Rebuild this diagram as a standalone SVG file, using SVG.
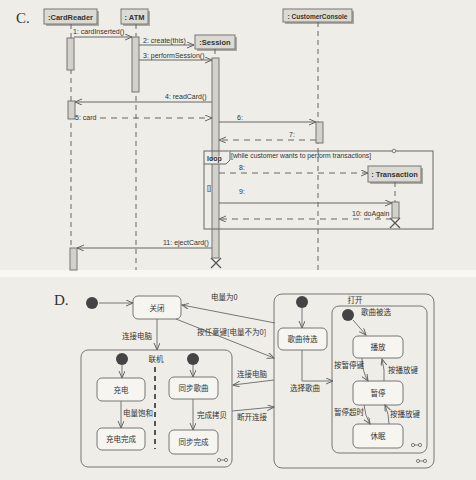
<svg xmlns="http://www.w3.org/2000/svg" width="476" height="480" viewBox="0 0 476 480">
<defs>
<marker id="arr" markerWidth="9" markerHeight="8" refX="7" refY="3" orient="auto" markerUnits="userSpaceOnUse"><path d="M0,0 L7,3 L0,6" fill="none" stroke="#666" stroke-width="1"/></marker>
</defs>
<style>
.ot{font-family:"Liberation Sans",Arial,sans-serif;font-size:7.5px;font-weight:bold;fill:#333;text-anchor:middle}
.obj{fill:#dcdbd3;stroke:#777;stroke-width:1}
.sh{fill:#aaa9a2}
.life{stroke:#666;stroke-width:1;stroke-dasharray:5,4;fill:none}
.act{fill:#d2d1ca;stroke:#777;stroke-width:1}
.msg{stroke:#666;stroke-width:1;fill:none;marker-end:url(#arr)}
.ret{stroke:#666;stroke-width:1;fill:none;stroke-dasharray:6,5;marker-end:url(#arr)}
.mt{font-family:"Liberation Sans",Arial,sans-serif;font-size:7px;fill:#333}
.st{fill:#f6f5f0;stroke:#777;stroke-width:1}
.comp{fill:none;stroke:#777;stroke-width:1}
.ct{font-family:"Noto Sans CJK SC",sans-serif;font-size:7.5px;fill:#333}
.cm{font-family:"Noto Sans CJK SC",sans-serif;font-size:7.5px;fill:#333;text-anchor:middle}
.init{fill:#444}
.tr{stroke:#777;stroke-width:1;fill:none;marker-end:url(#arr)}
.lbl{font-family:"Liberation Serif","Times New Roman",serif;font-size:15px;fill:#333}
.x{stroke:#555;stroke-width:1.2;fill:none}
.icon{fill:none;stroke:#666;stroke-width:0.8}
</style>
<rect x="0" y="0" width="476" height="480" fill="#eeede7"/>
<rect x="0" y="270" width="476" height="7" fill="#f7f7f3"/>

<!-- Part C: sequence diagram -->
<text class="lbl" x="16" y="23">C.</text>

<g id="cardreader">
<rect class="sh" x="46" y="11" width="53" height="15"/>
<rect class="obj" x="44" y="9" width="53" height="15"/>
<text class="ot" x="70.5" y="19.5">:CardReader</text>
<line class="life" x1="71" y1="24" x2="71" y2="270"/>
<rect class="act" x="67" y="38" width="7" height="32"/>
<rect class="act" x="68" y="101" width="7" height="18"/>
<rect class="act" x="70" y="248" width="7" height="22"/>
</g>

<g id="atm">
<rect class="sh" x="123" y="11" width="27" height="15"/>
<rect class="obj" x="121" y="9" width="27" height="15"/>
<text class="ot" x="134.5" y="19.5">: ATM</text>
<line class="life" x1="136" y1="24" x2="136" y2="270"/>
<rect class="act" x="132" y="37" width="7" height="55"/>
</g>

<g id="session">
<rect class="sh" x="197" y="37" width="40" height="14"/>
<rect class="obj" x="195" y="35" width="40" height="14"/>
<text class="ot" x="215" y="45">:Session</text>
<line class="life" x1="215" y1="49" x2="215" y2="58"/>
<rect class="act" x="212" y="58" width="7" height="200"/>
<path class="x" d="M211,258 L221,268 M221,258 L211,268"/>
</g>

<g id="customerconsole">
<rect class="sh" x="285" y="11" width="69" height="13"/>
<rect class="obj" x="283" y="9" width="69" height="13"/>
<text class="ot" x="317.5" y="18.5" style="font-size:6.5px">: CustomerConsole</text>
<line class="life" x1="318" y1="22" x2="318" y2="270"/>
<rect class="act" x="316" y="122" width="7" height="21"/>
</g>

<g id="transaction">
<rect class="sh" x="370" y="168" width="53" height="16"/>
<rect class="obj" x="368" y="166" width="53" height="16"/>
<text class="ot" x="394.5" y="177">: Transaction</text>
<line class="life" x1="395" y1="182" x2="395" y2="202"/>
<rect class="act" x="392" y="202" width="7" height="16"/>
<path class="x" d="M390,218 L400,228 M400,218 L390,228"/>
</g>

<g id="loop">
<rect x="204" y="151" width="229" height="78" fill="none" stroke="#666" stroke-width="1"/>
<path d="M204,164 L226,164 L230,160 L230,151" fill="#eeede7" stroke="#666" stroke-width="1"/>
<text class="mt" x="207" y="161" style="font-weight:bold">loop</text>
<text class="mt" x="231" y="158" style="font-size:6.8px">[while customer wants to perform transactions]</text>
<circle cx="394" cy="151" r="1.8" fill="#eeede7" stroke="#666" stroke-width="0.8"/>
<text class="mt" x="207" y="190">[]</text>
</g>

<g id="messages">
<line class="msg" x1="74" y1="37" x2="132" y2="37"/>
<text class="mt" x="73" y="34">1: cardInserted()</text>
<line class="msg" x1="139" y1="45" x2="194" y2="45"/>
<text class="mt" x="143" y="43">2: create(this)</text>
<line class="msg" x1="139" y1="60" x2="212" y2="60"/>
<text class="mt" x="143" y="58">3: performSession()</text>
<line class="msg" x1="212" y1="102" x2="75" y2="102"/>
<text class="mt" x="165" y="99">4: readCard()</text>
<line class="ret" x1="100" y1="118" x2="212" y2="118"/>
<text class="mt" x="75" y="120">5: card</text>
<line class="msg" x1="219" y1="122" x2="316" y2="122"/>
<text class="mt" x="237" y="120">6:</text>
<line class="ret" x1="316" y1="140" x2="219" y2="140"/>
<text class="mt" x="289" y="137">7:</text>
<line class="ret" x1="219" y1="173" x2="368" y2="173"/>
<text class="mt" x="239" y="170">8:</text>
<line class="msg" x1="219" y1="203" x2="392" y2="203"/>
<text class="mt" x="239" y="194">9:</text>
<line class="ret" x1="392" y1="219" x2="219" y2="219"/>
<text class="mt" x="352" y="216">10: doAgain</text>
<line class="msg" x1="212" y1="248" x2="77" y2="248"/>
<text class="mt" x="163" y="245">11: ejectCard()</text>
</g>

<!-- Part D: state diagram -->
<text class="lbl" x="54" y="305">D.</text>

<g id="init-top"><circle class="init" cx="92" cy="303" r="6"/></g>
<g id="guanbi">
<rect class="st" x="133" y="296" width="48" height="23" rx="5"/>
<text class="cm" x="157" y="310.5">关闭</text>
</g>

<g id="lianji">
<rect class="comp" x="81" y="350" width="151" height="117" rx="7"/>
<text class="cm" x="156" y="362">联机</text>
<line x1="155" y1="367" x2="155" y2="449" stroke="#555" stroke-width="2" stroke-dasharray="5,4"/>
<circle class="init" cx="122" cy="359" r="6"/>
<circle class="init" cx="193" cy="359" r="6"/>
<path class="icon" d="M220,460 L225,460"/>
<circle class="icon" cx="219" cy="460" r="1.6"/>
<circle class="icon" cx="226" cy="460" r="1.6"/>
</g>
<g id="chongdian">
<rect class="st" x="97" y="378" width="48" height="23" rx="5"/>
<text class="cm" x="121" y="392.5">充电</text>
</g>
<g id="chongdianwancheng">
<rect class="st" x="97" y="428" width="48" height="22" rx="5"/>
<text class="cm" x="121" y="442">充电完成</text>
</g>
<g id="tongbugequ">
<rect class="st" x="169" y="377" width="49" height="22" rx="5"/>
<text class="cm" x="193.5" y="391">同步歌曲</text>
</g>
<g id="tongbuwancheng">
<rect class="st" x="169" y="430" width="49" height="24" rx="5"/>
<text class="cm" x="193.5" y="445">同步完成</text>
</g>

<g id="dakai">
<rect class="comp" x="274" y="294" width="160" height="174" rx="8"/>
<text class="cm" x="355" y="303">打开</text>
<circle class="init" cx="302" cy="302" r="6"/>
<path class="icon" d="M419,461 L424,461"/>
<circle class="icon" cx="418" cy="461" r="1.6"/>
<circle class="icon" cx="425" cy="461" r="1.6"/>
</g>
<g id="gequdaixuan">
<rect class="st" x="278" y="328" width="49" height="22" rx="5"/>
<text class="cm" x="302.5" y="342">歌曲待选</text>
</g>
<g id="gequbeixuan">
<rect class="comp" x="332" y="306" width="95" height="147" rx="7"/>
<text class="cm" x="376" y="315">歌曲被选</text>
<circle class="init" cx="348" cy="315" r="6"/>
<path class="icon" d="M414,445 L419,445"/>
<circle class="icon" cx="413" cy="445" r="1.6"/>
<circle class="icon" cx="420" cy="445" r="1.6"/>
</g>
<g id="bofang">
<rect class="st" x="353" y="336" width="50" height="22" rx="5"/>
<text class="cm" x="378" y="350">播放</text>
</g>
<g id="zanting">
<rect class="st" x="353" y="381" width="50" height="24" rx="5"/>
<text class="cm" x="378" y="396">暂停</text>
</g>
<g id="xiumian">
<rect class="st" x="353" y="424" width="50" height="24" rx="5"/>
<text class="cm" x="378" y="439">休眠</text>
</g>

<g id="transitions">
<line class="tr" x1="99" y1="303" x2="133" y2="303"/>
<line class="tr" x1="275" y1="323" x2="182" y2="305"/>
<text class="ct" x="211" y="300">电量为0</text>
<line class="tr" x1="176" y1="319" x2="274" y2="358"/>
<text class="ct" x="197" y="335">按任意键[电量不为0]</text>
<line class="tr" x1="157" y1="319" x2="157" y2="350"/>
<text class="ct" x="122" y="339">连接电脑</text>
<line class="tr" x1="122" y1="365" x2="122" y2="378"/>
<line class="tr" x1="121" y1="401" x2="121" y2="428"/>
<text class="ct" x="123" y="416">电量饱和</text>
<line class="tr" x1="193" y1="365" x2="193" y2="377"/>
<line class="tr" x1="193" y1="399" x2="193" y2="430"/>
<text class="ct" x="197" y="418">完成拷贝</text>
<line class="tr" x1="274" y1="380" x2="233" y2="385"/>
<text class="ct" x="237" y="377">连接电脑</text>
<line class="tr" x1="232" y1="411" x2="274" y2="407"/>
<text class="ct" x="237" y="420">断开连接</text>
<line class="tr" x1="302" y1="308" x2="302" y2="328"/>
<path class="tr" d="M302,350 L302,381 L333,381"/>
<text class="ct" x="290" y="391">选择歌曲</text>
<line class="tr" x1="353" y1="320" x2="366" y2="335"/>
<path class="tr" d="M362,358 Q362,371 368,381"/>
<text class="ct" x="334" y="368">按暂停键</text>
<path class="tr" d="M384,381 Q385,370 382,359"/>
<text class="ct" x="388" y="373">按播放键</text>
<path class="tr" d="M364,405 Q365,416 370,424"/>
<text class="ct" x="334" y="415">暂停超时</text>
<path class="tr" d="M389,424 Q389,414 385,405"/>
<text class="ct" x="390" y="417">按播放键</text>
</g>
</svg>
